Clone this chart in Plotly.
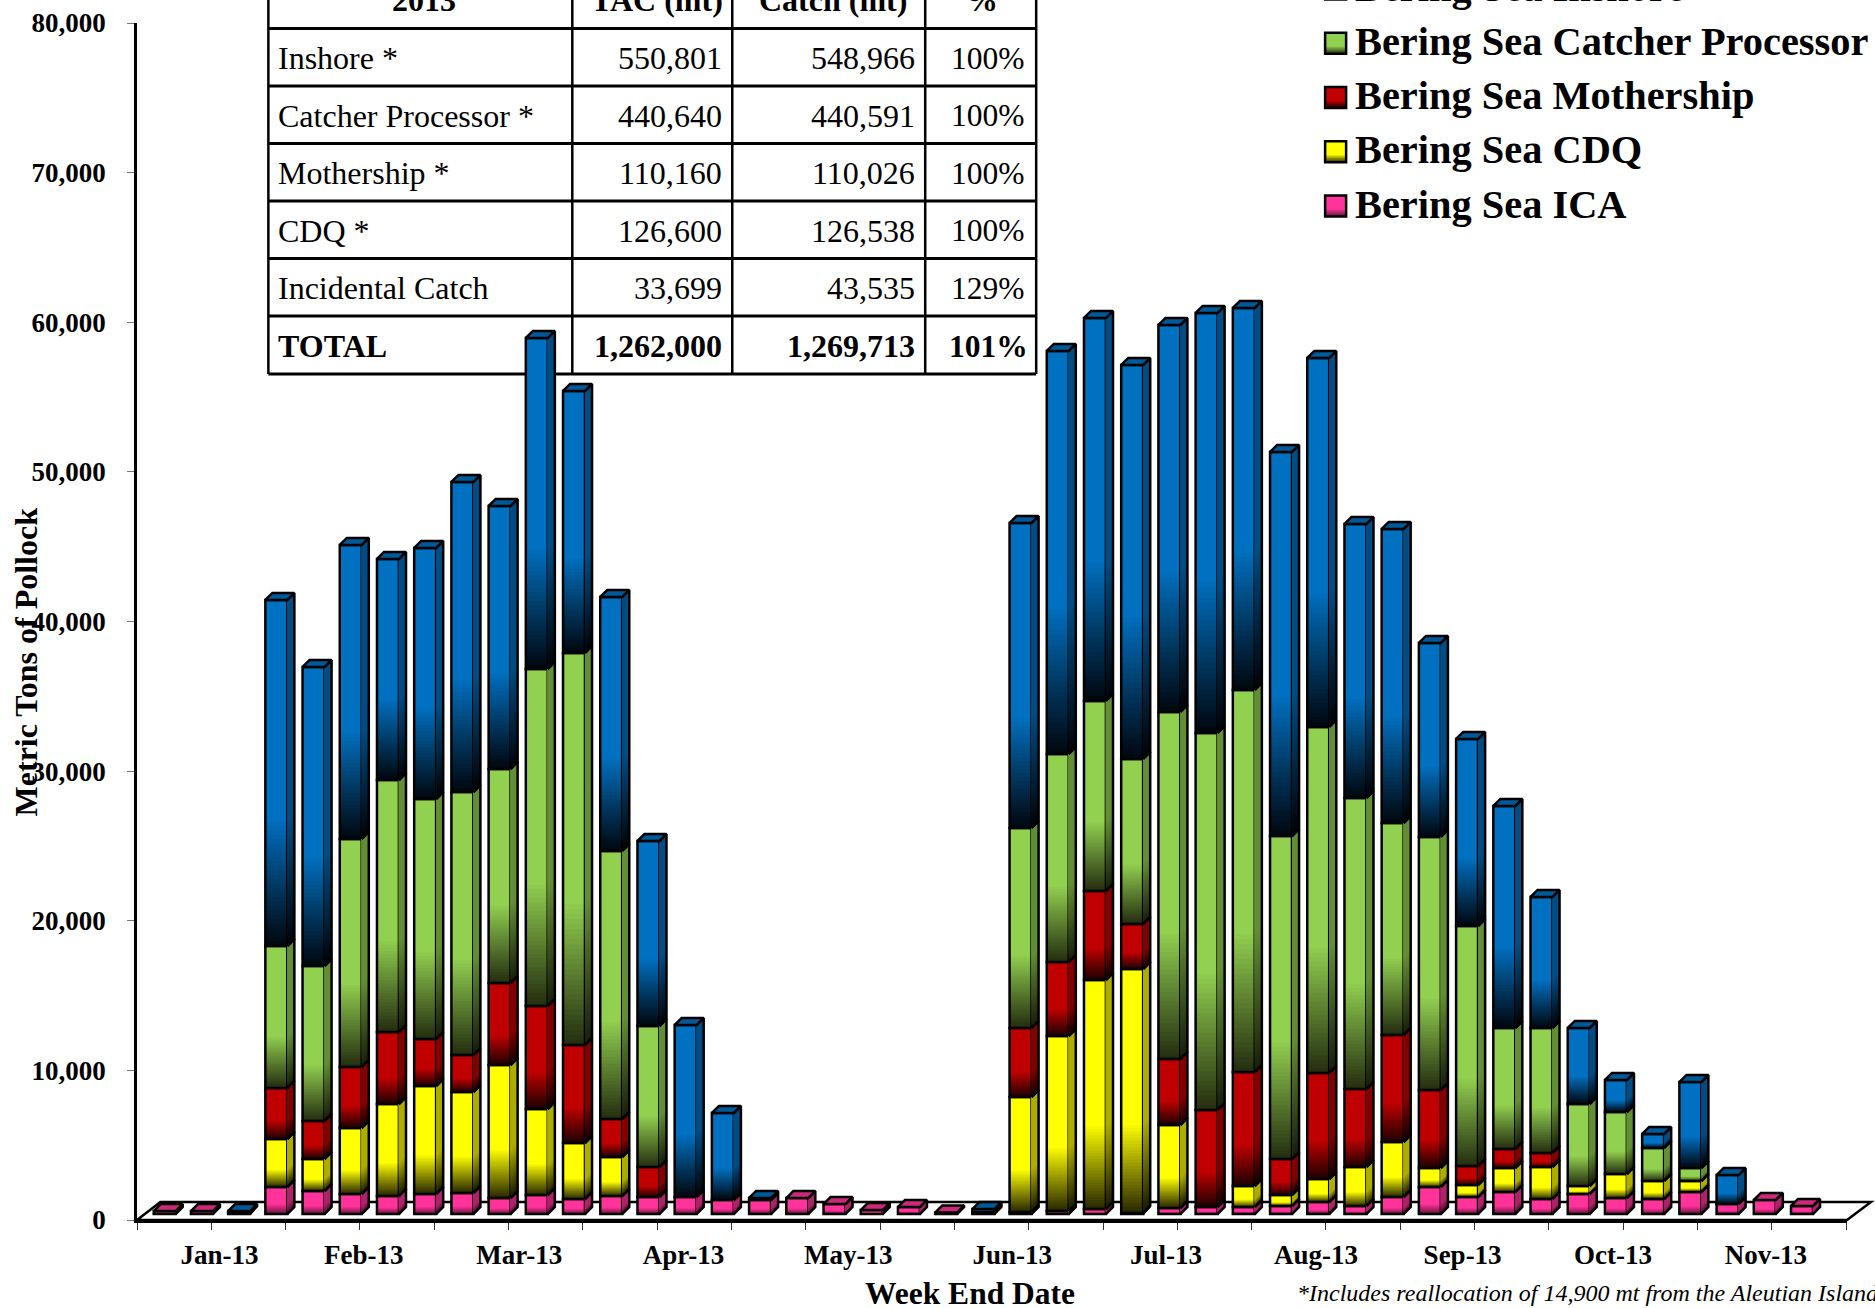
import plotly.graph_objects as go

# ---------- data (metric tons) ----------
week_index = list(range(46))
ica = [200, 200, 70, 1805, 1537, 1337, 1203, 1337, 1404, 1069, 1270, 1003, 1203, 1136, 1136, 936, 936, 1069, 668, 267, 468, 100, 134,
       134, 200, 334, 67, 401, 468, 468, 535, 802, 535, 1136, 1805, 1136, 1470, 1003, 1337, 1069, 1003, 1470, 668, 936, 535, 0]
cdq = [0, 0, 0, 3208, 2139, 4411, 6149, 7219, 6750, 8889, 5748, 3743, 2607, 0, 0, 0, 0, 0, 0, 0, 0, 0, 0,
       7687, 11697, 15306, 16309, 5548, 0, 1404, 735, 1537, 2607, 3676, 1270, 802, 1604, 2139, 535, 1604, 1203, 735, 0, 0, 0, 0]
mothership = [0, 0, 0, 3409, 2540, 4077, 4812, 3141, 2473, 5481, 6884, 6550, 2540, 2005, 0, 0, 0, 0, 0, 0, 0, 0, 0,
              4612, 4946, 5949, 3008, 4411, 6483, 7620, 2406, 7085, 5214, 7152, 5214, 1270, 1270, 936, 0, 0, 0, 0, 0, 0, 0, 0]
catcher_processor = [0, 0, 0, 9491, 10360, 15240, 16843, 16041, 17578, 14303, 22525, 26200, 17913, 9424, 0, 0, 0, 0, 0, 0, 0, 0, 0,
                     13368, 13903, 12700, 11029, 23193, 25199, 25533, 21589, 23127, 19450, 14170, 16911, 16042, 8088, 8355, 5481, 4144, 2206, 869, 0, 0, 0, 0]
inshore = [0, 0, 130, 23127, 19985, 19651, 14771, 16776, 20720, 17578, 22124, 17512, 16977, 12365, 11496, 5815, 134, 0, 0, 0, 0, 0, 200,
           20386, 26937, 25600, 26335, 25867, 28073, 25533, 25667, 24664, 18314, 19651, 12967, 12499, 14838, 8756, 5080, 2139, 936, 5748, 1938, 0, 0, 0]

month_labels = ["Jan-13", "Feb-13", "Mar-13", "Apr-13", "May-13", "Jun-13", "Jul-13", "Aug-13", "Sep-13", "Oct-13", "Nov-13"]
month_positions = [1.47, 5.35, 9.53, 13.94, 18.37, 22.78, 26.91, 30.94, 34.88, 38.92, 43.03]

y_ticks = [0, 10000, 20000, 30000, 40000, 50000, 60000, 70000, 80000]

legend_names = ["Bering Sea Inshore", "Bering Sea Catcher Processor", "Bering Sea Mothership", "Bering Sea CDQ", "Bering Sea ICA"]

table_header = ["2013", "TAC (mt)", "Catch (mt)", "%"]
table_sector = ["Inshore *", "Catcher Processor *", "Mothership *", "CDQ *", "Incidental Catch", "TOTAL"]
table_tac = ["550,801", "440,640", "110,160", "126,600", "33,699", "1,262,000"]
table_catch = ["548,966", "440,591", "110,026", "126,538", "43,535", "1,269,713"]
table_pct = ["100%", "100%", "100%", "100%", "129%", "101%"]

# ---------- styling ----------
FONT = "Liberation Serif"
W, H = 1875, 1308
L, R, T, B = 136.6, 28, 23, 88
X0 = -0.744
X1 = 45.21
FLOOR_LIFT = 400          # the front of each column stands above the axis zero
BAR_W = 0.59
DEPTH_X = 0.19
DEPTH_Y = 470
N_BANDS = 28
GRAD_PART = 0.36
SIDE = 0.68
TOP = 0.8
OUTLINE = 2.5

stack = [
    ("Bering Sea ICA", ica, (255, 51, 153), (102, 20, 61)),
    ("Bering Sea CDQ", cdq, (255, 255, 0), (42, 42, 0)),
    ("Bering Sea Mothership", mothership, (192, 0, 0), (32, 0, 0)),
    ("Bering Sea Catcher Processor", catcher_processor, (146, 208, 80), (38, 47, 16)),
    ("Bering Sea Inshore", inshore, (0, 112, 192), (0, 8, 16)),
]
legend_colors = {n: (c, d) for n, _, c, d in stack}


def xp(px):
    return (px - L) / (W - L - R)


def yp(py):
    return (H - B - py) / (H - T - B)


def rgb(c, k=1.0):
    return "rgb(%d,%d,%d)" % tuple(round(v * k) for v in c)


def mix(c, d, t):
    """t = 1 gives c, t = 0 gives d."""
    return tuple(d[i] + (c[i] - d[i]) * t for i in range(3))


fig = go.Figure()
side_traces = []
cum = [float(FLOOR_LIFT)] * len(week_index)
tops = [None] * len(week_index)

for name, vals, col, dark in stack:
    bases = list(cum)
    # gradient: painter's order, each band reaching to the segment's top
    for b in range(N_BANDS + 1):
        f = GRAD_PART * b / N_BANDS
        c = mix(col, dark, b / N_BANDS)
        fig.add_trace(go.Bar(
            x=week_index, y=[v * (1 - f) if v > 0 else None for v in vals],
            base=[bb + v * f for bb, v in zip(bases, vals)],
            width=BAR_W, marker=dict(color=rgb(c), line=dict(width=0)),
            hoverinfo="skip", showlegend=False))
        sx, sy = [], []
        for i, v in enumerate(vals):
            if v <= 0:
                continue
            xr = week_index[i] + BAR_W / 2
            y0 = bases[i] + v * f
            y1 = bases[i] + v
            sx += [xr, xr + DEPTH_X, xr + DEPTH_X, xr, xr, None]
            sy += [y0, y0 + DEPTH_Y, y1 + DEPTH_Y, y1, y0, None]
        side_traces.append(go.Scatter(
            x=sx, y=sy, mode="lines", fill="toself", fillcolor=rgb(c, SIDE),
            line=dict(width=0), hoverinfo="skip", showlegend=False, cliponaxis=False))
    # outlined data bar for the segment
    fig.add_trace(go.Bar(
        x=week_index, y=[v if v > 0 else None for v in vals], base=bases, width=BAR_W, name=name,
        marker=dict(color="rgba(0,0,0,0)", line=dict(color="black", width=OUTLINE)),
        showlegend=False))
    ox, oy = [], []
    for i, v in enumerate(vals):
        if v <= 0:
            continue
        xr = week_index[i] + BAR_W / 2
        y0 = bases[i]
        y1 = bases[i] + v
        ox += [xr, xr + DEPTH_X, xr + DEPTH_X, xr, None]
        oy += [y0, y0 + DEPTH_Y, y1 + DEPTH_Y, y1, None]
        tops[i] = (y1, col)
    side_traces.append(go.Scatter(
        x=ox, y=oy, mode="lines", line=dict(color="black", width=OUTLINE),
        hoverinfo="skip", showlegend=False, cliponaxis=False))
    cum = [a + v for a, v in zip(cum, vals)]

# top faces, one trace per colour of the uppermost segment
for name, vals, col, dark in stack:
    tx, ty = [], []
    for i, t in enumerate(tops):
        if t is None or t[1] != col:
            continue
        xl = week_index[i] - BAR_W / 2
        xr = xl + BAR_W
        y1 = t[0]
        tx += [xl, xl + DEPTH_X, xr + DEPTH_X, xr, xl, None]
        ty += [y1, y1 + DEPTH_Y, y1 + DEPTH_Y, y1, y1, None]
    if tx:
        side_traces.append(go.Scatter(
            x=tx, y=ty, mode="lines", fill="toself", fillcolor=rgb(col, TOP),
            line=dict(color="black", width=OUTLINE), hoverinfo="skip",
            showlegend=False, cliponaxis=False))

fig.add_traces(side_traces)

# ---------- layout furniture ----------
shapes = []
annots = []


def add_text(text, px, py, size, bold=False, italic=False, anchor="center", angle=0):
    t = text
    if bold:
        t = "<b>%s</b>" % t
    if italic:
        t = "<i>%s</i>" % t
    annots.append(dict(text=t, x=xp(px), y=yp(py), xref="paper", yref="paper", showarrow=False,
                       xanchor=anchor, yanchor="middle", textangle=angle,
                       font=dict(family=FONT, size=size, color="black")))


# floor
shapes.append(dict(type="path", xref="paper", yref="paper", layer="below",
                   path="M %f,%f L %f,%f L %f,%f L %f,%f Z" % (
                       xp(136.6), yp(1220), xp(160), yp(1202), xp(1871), yp(1202), xp(1847), yp(1220)),
                   line=dict(color="black", width=2.5), fillcolor="white"))

# table grid
row_lines = [28.5, 86, 143.5, 201, 258.5, 316, 374]
col_lines = [268, 572, 732, 925, 1036]
for py in row_lines:
    shapes.append(dict(type="line", xref="paper", yref="paper", layer="below",
                       x0=xp(col_lines[0]), x1=xp(col_lines[-1]), y0=yp(py), y1=yp(py),
                       line=dict(color="black", width=3)))
for px in col_lines:
    shapes.append(dict(type="line", xref="paper", yref="paper", layer="below",
                       x0=xp(px), x1=xp(px), y0=yp(-30), y1=yp(row_lines[-1]),
                       line=dict(color="black", width=2.5)))

add_text(table_header[0], 424, 0, 32, bold=True)
add_text(table_header[1], 657, 0, 32, bold=True)
add_text(table_header[2], 833, 0, 32, bold=True)
add_text(table_header[3], 982, 0, 32, bold=True)
for r in range(6):
    py = (row_lines[r] + row_lines[r + 1]) / 2 + 1
    bold = r == 5
    add_text(table_sector[r], 276, py, 32, bold=bold, anchor="left")
    add_text(table_tac[r], 724, py, 32, bold=bold, anchor="right")
    add_text(table_catch[r], 917, py, 32, bold=bold, anchor="right")
    add_text(table_pct[r], 988, py, 31.5, bold=bold)

# legend
for k, nm in enumerate(legend_names):
    cy = -11 + 54.25 * k
    x0, x1 = 1325, 1346
    y0, y1 = cy - 10.5, cy + 10.5
    col, dark = legend_colors[nm]
    shapes.append(dict(type="rect", xref="paper", yref="paper", x0=xp(x0), x1=xp(x1), y0=yp(y1), y1=yp(y0),
                       fillcolor=rgb(col), line=dict(width=0)))
    for s in range(4):
        shapes.append(dict(type="rect", xref="paper", yref="paper", x0=xp(x0), x1=xp(x1),
                           y0=yp(y1), y1=yp(y1 - 7 + 1.5 * s),
                           fillcolor=rgb(mix(col, dark, 1 - (s + 1) / 5)), line=dict(width=0)))
    shapes.append(dict(type="rect", xref="paper", yref="paper", x0=xp(x0), x1=xp(x1), y0=yp(y1), y1=yp(y0),
                       fillcolor="rgba(0,0,0,0)", line=dict(color="black", width=2.5)))
    add_text(nm, 1353, cy - 2, 40.4, bold=True, anchor="left")

# axis titles and footnote
add_text("Metric Tons of Pollock", 26, 662, 32, bold=True, angle=-90)
add_text("Week End Date", 970, 1293, 31.5, bold=True)
add_text("*Includes reallocation of 14,900 mt from the Aleutian Islands", 1295, 1293, 24, italic=True, anchor="left")

fig.update_layout(
    width=W, height=H, autosize=False,
    margin=dict(l=L, r=R, t=T, b=B, pad=0, autoexpand=False),
    paper_bgcolor="white", plot_bgcolor="rgba(0,0,0,0)",
    barmode="overlay", showlegend=False, hovermode="closest",
    shapes=shapes, annotations=annots,
    xaxis=dict(range=[X0, X1], showgrid=False, zeroline=False, showline=True, linecolor="black", linewidth=2.5,
               tickmode="array", tickvals=month_positions, ticktext=["<b>%s</b>" % m for m in month_labels], ticks="",
               ticklabelstandoff=9,
               tickfont=dict(family=FONT, size=27, color="black"),
               minor=dict(tickmode="linear", tick0=X0, dtick=1.997, ticks="outside", ticklen=7,
                          tickwidth=1.2, tickcolor="#333333", showgrid=False)),
    yaxis=dict(range=[0, 80000], showgrid=False, zeroline=False, showline=True, linecolor="black", linewidth=2.5,
               tickmode="array", tickvals=y_ticks, ticktext=["<b>{:,}</b>".format(v) for v in y_ticks],
               ticks="outside", ticklen=7, tickwidth=1.2, tickcolor="#777777", ticklabelstandoff=16,
               tickfont=dict(family=FONT, size=27, color="black")),
)

fig.write_html("out.html", config={"displayModeBar": False},
               post_script="document.body.style.margin='0';document.documentElement.style.overflow='hidden';")
